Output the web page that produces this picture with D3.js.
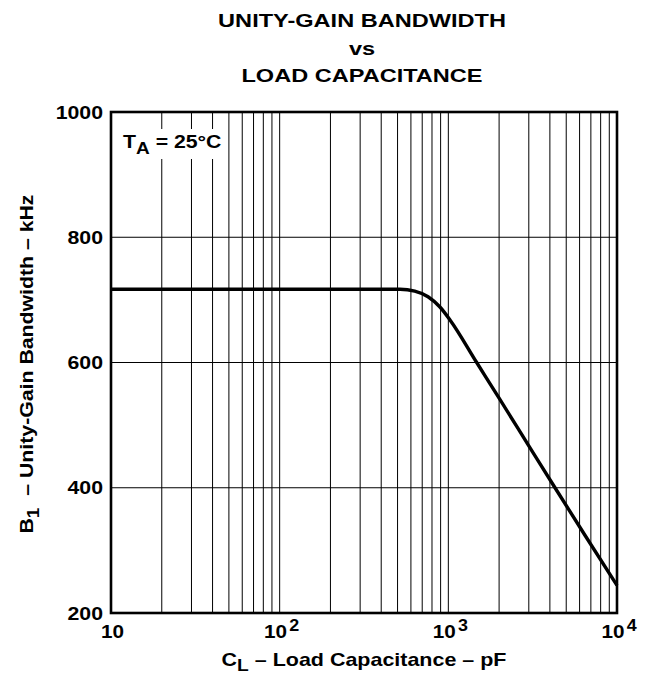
<!DOCTYPE html>
<html>
<head>
<meta charset="utf-8">
<script src="https://cdn.jsdelivr.net/npm/d3@7"></script>
<style>
  html, body { margin: 0; padding: 0; background: #fff; }
  svg { display: block; }
  text { font-family: "Liberation Sans", Arial, Helvetica, sans-serif; font-weight: bold; fill: #000; }
</style>
</head>
<body>
<svg id="chart" width="646" height="675"></svg>
<script>
// Load capacitance (pF) and unity-gain bandwidth (kHz) at TA = 25 °C
const capacitancePF = [10, 300, 517, 632, 758, 889, 1023, 1473, 2000, 3000, 4290, 6500, 10000];
const bandwidthKHz  = [717, 717, 717, 714, 705, 689, 668, 600, 543, 467, 400, 323, 244];

// Axis ticks
const xDecades = [10, 100, 1000, 10000];
const xDecadeExp = [1, 2, 3, 4];
const yTicks = [200, 400, 600, 800, 1000];

const titleLines = ["UNITY-GAIN BANDWIDTH", "vs", "LOAD CAPACITANCE"];

const svg = d3.select("#chart");
const plot = { left: 111, top: 112, right: 617, bottom: 613 };

const x = d3.scaleLog().domain([10, 10000]).range([plot.left, plot.right]);
const y = d3.scaleLinear().domain([200, 1000]).range([plot.bottom, plot.top]);

// Places a text at (px, py), widened horizontally by sx
function label(parent, px, py, size, sx, anchor, rot) {
  const r = rot ? ` rotate(${rot})` : "";
  return parent.append("text")
    .attr("transform", `translate(${px},${py})${r} scale(${sx},1)`)
    .attr("text-anchor", anchor)
    .style("font-size", size + "px");
}

// Title
titleLines.forEach((t, i) => {
  label(svg, 362, 27 + i * 27.5, 19, 1.24, "middle").text(t);
});

// Grid: every 1..9 per decade vertically, every 200 kHz horizontally
const grid = svg.append("g").attr("stroke", "#000").attr("stroke-width", 1).attr("fill", "none");
grid.selectAll("line.v")
  .data(x.ticks())
  .join("line")
  .attr("class", "v")
  .attr("x1", d => x(d)).attr("x2", d => x(d))
  .attr("y1", plot.top).attr("y2", plot.bottom);
grid.selectAll("line.h")
  .data(yTicks)
  .join("line")
  .attr("class", "h")
  .attr("x1", plot.left).attr("x2", plot.right)
  .attr("y1", d => y(d)).attr("y2", d => y(d));

// Bandwidth curve
const line = d3.line()
  .x((d, i) => x(capacitancePF[i]))
  .y(d => y(d))
  .curve(d3.curveMonotoneX);
svg.append("path")
  .datum(bandwidthKHz)
  .attr("d", line)
  .attr("fill", "none")
  .attr("stroke", "#000")
  .attr("stroke-width", 3.4)
  .attr("stroke-linejoin", "round");

// Plot frame
svg.append("rect")
  .attr("x", plot.left).attr("y", plot.top)
  .attr("width", plot.right - plot.left).attr("height", plot.bottom - plot.top)
  .attr("fill", "none").attr("stroke", "#000").attr("stroke-width", 2.6);

// Temperature note with a white backing over the grid
const note = svg.append("g");
note.append("rect")
  .attr("x", 118).attr("y", 129).attr("width", 108).attr("height", 30)
  .attr("fill", "#fff");
const noteText = label(note, 123, 148, 19, 1.12, "start");
noteText.append("tspan").text("T");
noteText.append("tspan").attr("dy", 6).style("font-size", "17px").text("A");
noteText.append("tspan").attr("dy", -6).text(" = 25°C");

// Y tick labels
yTicks.forEach(v => {
  label(svg, 103, y(v) + 6.5, 18.5, 1.15, "end").text(v);
});

// X tick labels (powers of ten)
xDecades.forEach((d, i) => {
  if (xDecadeExp[i] === 1) {
    label(svg, x(d) + 1.5, 638, 18.5, 1.12, "middle").text("10");
  } else {
    const t = label(svg, x(d) + 2, 638, 18.5, 1.12, "middle");
    t.append("tspan").text("10");
    t.append("tspan").attr("dy", -7).attr("dx", 2).style("font-size", "16px").text(xDecadeExp[i]);
  }
});

// X axis title
const xt = label(svg, 364, 666, 19, 1.13, "middle");
xt.append("tspan").text("C");
xt.append("tspan").attr("dy", 5).style("font-size", "17px").text("L");
xt.append("tspan").attr("dy", -5).text(" – Load Capacitance – pF");

// Y axis title
const yt = label(svg, 33, 364, 19, 1.12, "middle", -90);
yt.append("tspan").text("B");
yt.append("tspan").attr("dy", 6).style("font-size", "17px").text("1");
yt.append("tspan").attr("dy", -6).attr("xml:space", "preserve").text("  – Unity-Gain Bandwidth – kHz");
</script>
</body>
</html>
